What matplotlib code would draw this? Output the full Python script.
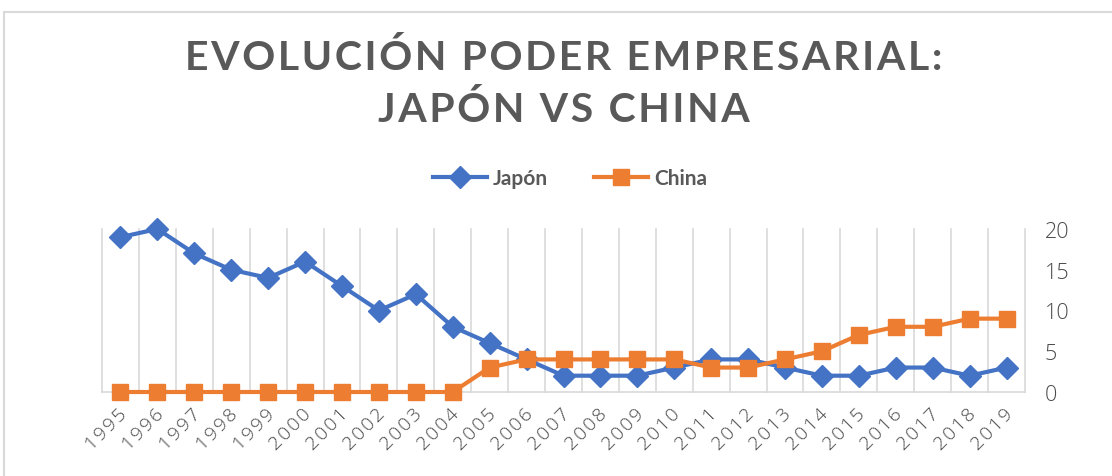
import matplotlib
matplotlib.use("Agg")
import matplotlib.pyplot as plt
from matplotlib.lines import Line2D
from matplotlib.transforms import ScaledTranslation
import numpy as np

years = [str(y) for y in range(1995, 2020)]
japon = [19, 20, 17, 15, 14, 16, 13, 10, 12, 8, 6, 4, 2, 2, 2, 3, 4, 4, 3, 2, 2, 3, 3, 2, 3]
china = [0, 0, 0, 0, 0, 0, 0, 0, 0, 0, 3, 4, 4, 4, 4, 4, 3, 3, 4, 5, 7, 8, 8, 9, 9]
yticks = [0, 5, 10, 15, 20]
title_lines = ["EVOLUCIÓN PODER EMPRESARIAL:", "JAPÓN VS CHINA"]

W, H = 1112, 477
fig = plt.figure(figsize=(W / 100, H / 100), dpi=100)
fig.patch.set_facecolor("white")

# chart border (cropped)
fig.add_artist(Line2D([4 / W, 1], [1 - 13 / H, 1 - 13 / H], color="#d9d9d9", lw=1.5, transform=fig.transFigure))
fig.add_artist(Line2D([4 / W, 4 / W], [0, 1 - 13 / H], color="#d9d9d9", lw=1.5, transform=fig.transFigure))

ax = fig.add_axes([102 / W, 1 - 393 / H, (1025 - 102) / W, (393 - 230) / H])
x = np.arange(len(years))
ax.plot(x, japon, color="#4472C4", lw=3, marker="D", ms=11, label="Japón", zorder=3)
ax.plot(x, china, color="#ED7D31", lw=3, marker="s", ms=12, label="China", zorder=4)

ax.set_xlim(-0.5, len(years) - 0.5)
ax.set_ylim(0, 20)
for i in range(len(years) + 1):
    ax.axvline(i - 0.5, color="#d9d9d9", lw=1.2, zorder=1)
for s in ["top", "left", "right"]:
    ax.spines[s].set_visible(False)
ax.spines["bottom"].set_color("#d9d9d9")
ax.spines["bottom"].set_linewidth(1.2)
ax.yaxis.tick_right()
ax.set_yticks(yticks)
ax.set_yticklabels([str(v) for v in yticks], fontsize=15.5, color="#4a4a4a", family="Open Sans", fontweight=300)
ax.tick_params(axis="y", length=0, pad=14)
ax.set_xticks(x)
ax.set_xticklabels(["\u200a".join(y) for y in years], rotation=45, ha="right", rotation_mode="anchor",
                   fontsize=14, color="#4a4a4a", family=["Open Sans", "DejaVu Sans"], fontweight=300)
ax.tick_params(axis="x", length=0, pad=9)
shift = ScaledTranslation(-3 / 100, 0, fig.dpi_scale_trans)
for lbl in ax.get_xticklabels():
    lbl.set_transform(lbl.get_transform() + shift)
for ln in ax.lines:
    ln.set_clip_on(False)

sp = "\u200a"
for line, yy in zip(title_lines, [58, 110]):
    fig.text(0.507, 1 - yy / H, sp.join(line), ha="center", va="center",
             fontsize=29.5, fontweight="bold", color="#595959", family=["Lato", "DejaVu Sans"])

leg = fig.legend(loc="center", bbox_to_anchor=(570 / W, 1 - 179 / H), ncol=2, frameon=False,
                 prop={"family": "Lato", "weight": "bold", "size": 15}, handlelength=2.6,
                 columnspacing=2.2, handletextpad=0.3)
for t in leg.get_texts():
    t.set_color("#595959")

fig.savefig("out.png", dpi=100)
